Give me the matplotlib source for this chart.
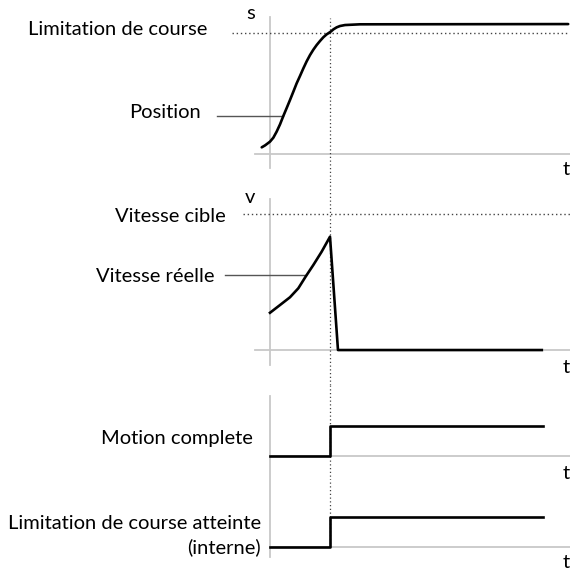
import numpy as np
import matplotlib
matplotlib.use("Agg")
import matplotlib.pyplot as plt

plt.rcParams['font.family'] = ['Lato', 'DejaVu Sans']

# position (s), limit reached at t = 1
pos_t = [-0.138, -0.083, 0.0, 0.056, 0.111, 0.167, 0.222, 0.278, 0.333, 0.389, 0.444, 0.5,
	0.556, 0.611, 0.667, 0.722, 0.778, 0.833, 0.889, 0.944, 1.011, 1.056, 1.111, 1.167, 1.25, 1.5, 4.97]
pos_s = [0.055, 0.071, 0.102, 0.135, 0.185, 0.245, 0.314, 0.380, 0.446, 0.515, 0.584, 0.645,
	0.708, 0.766, 0.818, 0.862, 0.901, 0.934, 0.965, 0.989, 1.011, 1.030, 1.047, 1.058, 1.066, 1.072, 1.074]
s_limit = 1.0

# velocity (v)
vel_t = [0.0, 0.167, 0.333, 0.472, 0.6, 0.722, 0.861, 1.0, 1.133, 4.53]
vel_v = [0.274, 0.331, 0.388, 0.454, 0.544, 0.625, 0.723, 0.833, 0.0, 0.0]
v_target = 1.0

# digital signals
sig_t = [0.0, 1.0, 1.0, 4.55]
sig_val = [0, 0, 1, 1]
t_limit = 1.0

labels_pos = ["Limitation de course", "Position"]
labels_vel = ["Vitesse cible", "Vitesse réelle"]
labels_sig = ["Motion complete", "Limitation de course atteinte\n(interne)"]

W, H = 570, 574
fig = plt.figure(figsize=(W / 100, H / 100), dpi=100)

XLIM = (-4.5, 5.0)
GRAY = '#c8c8c8'
DOT = '#444444'
FS = 14.5


def band(top, bottom, ylim):
	ax = fig.add_axes([0, 1 - bottom / H, 1, (bottom - top) / H])
	ax.set_xlim(*XLIM)
	ax.set_ylim(*ylim)
	ax.axis('off')
	return ax


# panel 1 : position
ax1 = band(0, 180, (-0.215, 1.273))
ax1.plot([0, 0], [-0.116, 1.132], color=GRAY, lw=1.3)
ax1.plot([-0.25, 5.0], [0, 0], color=GRAY, lw=1.3)
ax1.plot([-0.633, 5.0], [s_limit, s_limit], color=DOT, lw=1.0, ls=(0, (1, 2)))
ax1.plot([t_limit, t_limit], [-0.215, 1.124], color=DOT, lw=0.9, ls=(0, (1, 2)))
ax1.plot([-0.883, 0.217], [0.314, 0.314], color='#555555', lw=1.0)
ax1.plot(pos_t, pos_s, color='black', lw=1.9, solid_capstyle='round')
ax1.text(-0.33, 1.16, "s", fontsize=FS, ha='center', va='center')
ax1.text(4.93, -0.13, "t", fontsize=FS, ha='center', va='center')
ax1.text(-1.05, 1.033, labels_pos[0], fontsize=FS, ha='right', va='center')
ax1.text(-1.15, 0.347, labels_pos[1], fontsize=FS, ha='right', va='center')

# panel 2 : velocity
ax2 = band(180, 385, (-0.257, 1.25))
ax2.plot([0, 0], [-0.11, 1.11], color=GRAY, lw=1.3)
ax2.plot([-0.25, 5.0], [0, 0], color=GRAY, lw=1.3)
ax2.plot([-0.45, 5.0], [v_target, v_target], color=DOT, lw=1.0, ls=(0, (1, 2)))
ax2.axvline(t_limit, color=DOT, lw=0.9, ls=(0, (1, 2)))
ax2.plot([-0.75, 0.6], [0.551, 0.551], color='#555555', lw=1.0)
ax2.plot(vel_t, vel_v, color='black', lw=1.9)
ax2.text(-0.33, 1.125, "v", fontsize=FS, ha='center', va='center')
ax2.text(4.93, -0.125, "t", fontsize=FS, ha='center', va='center')
ax2.text(-0.733, 0.985, labels_vel[0], fontsize=FS, ha='right', va='center')
ax2.text(-0.917, 0.537, labels_vel[1], fontsize=FS, ha='right', va='center')

# panel 3 : motion complete
ax3 = band(385, 480, (-0.8, 2.367))
ax3.plot([0, 0], [-0.8, 2.0], color=GRAY, lw=1.3)
ax3.plot([0, 5.0], [0, 0], color=GRAY, lw=1.3)
ax3.axvline(t_limit, color=DOT, lw=0.9, ls=(0, (1, 2)))
ax3.plot(sig_t, sig_val, color='black', lw=1.9)
ax3.text(4.93, -0.57, "t", fontsize=FS, ha='center', va='center')
ax3.text(-0.283, 0.6, labels_sig[0], fontsize=FS, ha='right', va='center')

# panel 4 : limit reached (internal)
ax4 = band(480, 574, (-0.9, 2.233))
ax4.plot([0, 0], [-0.333, 2.233], color=GRAY, lw=1.3)
ax4.plot([0, 5.0], [0, 0], color=GRAY, lw=1.3)
ax4.plot([t_limit, t_limit], [0, 2.233], color=DOT, lw=0.9, ls=(0, (1, 2)))
ax4.plot(sig_t, sig_val, color='black', lw=1.9)
ax4.text(4.93, -0.53, "t", fontsize=FS, ha='center', va='center')
ax4.text(-0.15, 0.383, labels_sig[1], fontsize=FS, ha='right', va='center', linespacing=1.4)

fig.savefig("out.png", dpi=100)
